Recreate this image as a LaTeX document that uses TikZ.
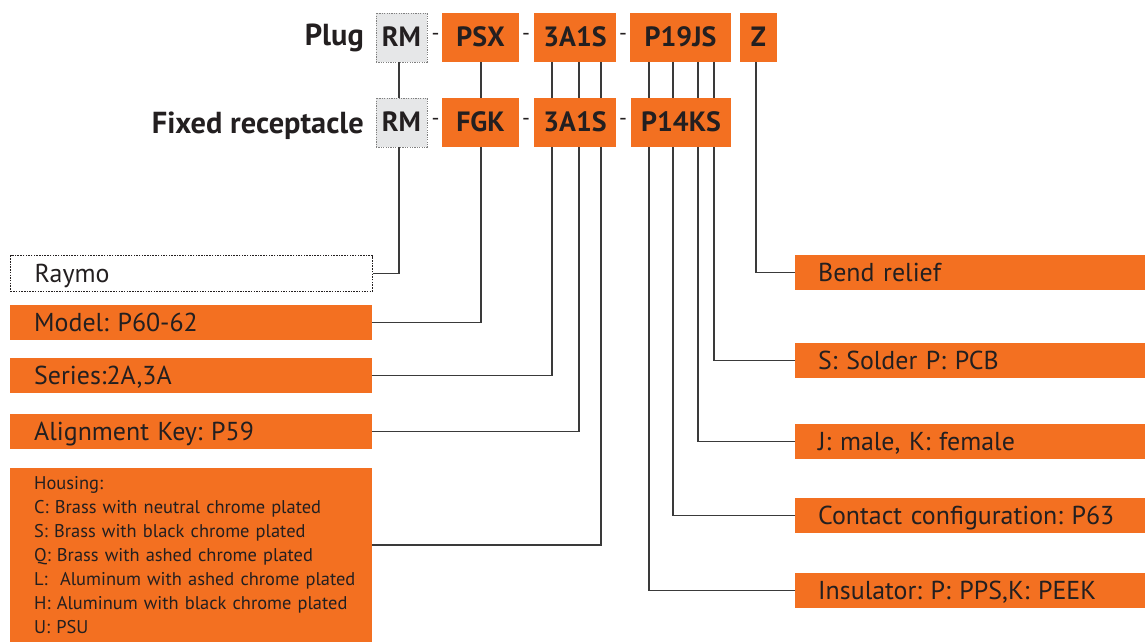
\documentclass[tikz,border=0pt]{standalone}
\usepackage{fontspec}
\setmainfont{PT Sans}
\frenchspacing
\definecolor{org}{HTML}{F37021}
\definecolor{ink}{HTML}{231F20}
\definecolor{ln}{HTML}{3A3A3A}
\definecolor{rmgray}{HTML}{E6E7E8}
\begin{document}
\begin{tikzpicture}[x=1bp,y=-1bp,
  code/.style={fill=org, text=ink, font=\bfseries\fontsize{28}{32}\selectfont, inner sep=0pt, minimum height=49bp, text height=19bp, text depth=0pt},
  rmbox/.style={code, fill=rmgray, draw=gray, dash pattern=on 1.2bp off 1.2bp, line width=0.9bp},
  sepdash/.style={text=ink, font=\fontsize{22}{26}\selectfont, inner sep=0pt},
  title/.style={text=ink, font=\bfseries\fontsize{30.5}{34}\selectfont, inner sep=0pt, anchor=base east},
  lbl/.style={fill=org, text=ink, font=\fontsize{26}{30}\selectfont, inner ysep=0pt, minimum height=35bp, align=left, text height=18.2bp, text depth=0pt},
  lleft/.style={lbl, inner xsep=24bp, text width=314bp, anchor=west},
  lright/.style={lbl, inner xsep=23bp, text width=304bp, anchor=west},
  conn/.style={draw=ln, line width=1.6bp}
]
\useasboundingbox (0,0) rectangle (1145,642);
% titles
\node[title] (plug) at (364,46) {Plug};
\node[title] (fixed) at (364,133.5) {Fixed receptacle};
% top row
\node[rmbox, minimum width=51bp] (rmP) at (401.5,37.5) {RM};
\node[code, minimum width=77bp] (psx) at (480.5,37.5) {PSX};
\node[code, minimum width=82bp] (aP) at (575,37.5) {3A1S};
\node[code, minimum width=101bp] (p19) at (680.5,37.5) {P19JS};
\node[code, minimum width=37bp] (z) at (758.5,37.5) {Z};
\node[sepdash] (d1) at (435.5,37) {-};
\node[sepdash] (d2) at (526,37) {-};
\node[sepdash] (d3) at (623,37) {-};
% bottom row
\node[rmbox, minimum width=51bp] (rmR) at (401.5,122.5) {RM};
\node[code, minimum width=77bp] (fgk) at (480.5,122.5) {FGK};
\node[code, minimum width=82bp] (aR) at (575,122.5) {3A1S};
\node[code, minimum width=100bp] (p14) at (681,122.5) {P14KS};
\node[sepdash] (e1) at (435.5,122) {-};
\node[sepdash] (e2) at (526,122) {-};
\node[sepdash] (e3) at (623,122) {-};
% left labels
\node[lleft, fill=white, draw=ink, dash pattern=on 1.5bp off 1.2bp, line width=1bp] (raymo) at (10,273.5) {\mbox{Raymo}};
\node[lleft] (model) at (10,322.5) {\mbox{Model: P60-62}};
\node[lleft] (series) at (10,375.5) {\mbox{Series:2A,3A}};
\node[lleft] (akey) at (10,431.5) {\mbox{Alignment Key: P59}};
\node[fill=org, text=ink, font=\fontsize{18.5}{24}\selectfont, inner xsep=24bp, inner ysep=0pt, text width=314bp, align=left, minimum height=174bp, anchor=north west] (housing) at (10,468)
  {\mbox{Housing:}\\ \mbox{C: Brass with neutral chrome plated}\\ \mbox{S: Brass with black chrome plated}\\ \mbox{Q: Brass with ashed chrome plated}\\ \mbox{L:\ \ Aluminum with ashed chrome plated}\\ \mbox{H: Aluminum with black chrome plated}\\ \mbox{U: PSU}};
\coordinate (hport) at ([yshift=-77bp]housing.north east);
% right labels
\node[lright] (bend) at (795,272.5) {\mbox{Bend relief}};
\node[lright] (solder) at (795,360.5) {\mbox{S: Solder P: PCB}};
\node[lright] (male) at (795,441.5) {\mbox{J: male, K: female}};
\node[lright] (contact) at (795,515.5) {\mbox{Contact configuration: P63}};
\node[lright] (insul) at (795,590.5) {\mbox{Insulator: P: PPS,K: PEEK}};
% connector columns
\coordinate (cRM) at ([xshift=-2.5bp]rmP.south);
\coordinate (cPS) at ([xshift=0.5bp]psx.south);
\coordinate (cA1) at ([xshift=-23bp]aP.south);
\coordinate (cA2) at ([xshift=4bp]aP.south);
\coordinate (cA3) at ([xshift=26bp]aP.south);
\coordinate (cP1) at ([xshift=-31.5bp]p19.south);
\coordinate (cP2) at ([xshift=-7.5bp]p19.south);
\coordinate (cP3) at ([xshift=17.5bp]p19.south);
\coordinate (cP4) at ([xshift=33.5bp]p19.south);
\coordinate (cZ) at ([xshift=-2.5bp]z.south);
% connectors
\draw[conn] (cRM) -- (cRM |- rmR.north);
\draw[conn] (cRM |- rmR.south) |- (raymo.east);
\draw[conn] (cPS) -- (cPS |- fgk.north);
\draw[conn] (cPS |- fgk.south) |- (model.east);
\draw[conn] (cA1) -- (cA1 |- aR.north);
\draw[conn] (cA1 |- aR.south) |- (series.east);
\draw[conn] (cA2) -- (cA2 |- aR.north);
\draw[conn] (cA2 |- aR.south) |- (akey.east);
\draw[conn] (cA3) -- (cA3 |- aR.north);
\draw[conn] (cA3 |- aR.south) |- (hport);
\draw[conn] (cP1) -- (cP1 |- p14.north);
\draw[conn] (cP1 |- p14.south) |- (insul.west);
\draw[conn] (cP2) -- (cP2 |- p14.north);
\draw[conn] (cP2 |- p14.south) |- (contact.west);
\draw[conn] (cP3) -- (cP3 |- p14.north);
\draw[conn] (cP3 |- p14.south) |- (male.west);
\draw[conn] (cP4) -- (cP4 |- p14.north);
\draw[conn] (cP4 |- p14.south) |- (solder.west);
\draw[conn] (cZ) |- (bend.west);
\end{tikzpicture}
\end{document}
